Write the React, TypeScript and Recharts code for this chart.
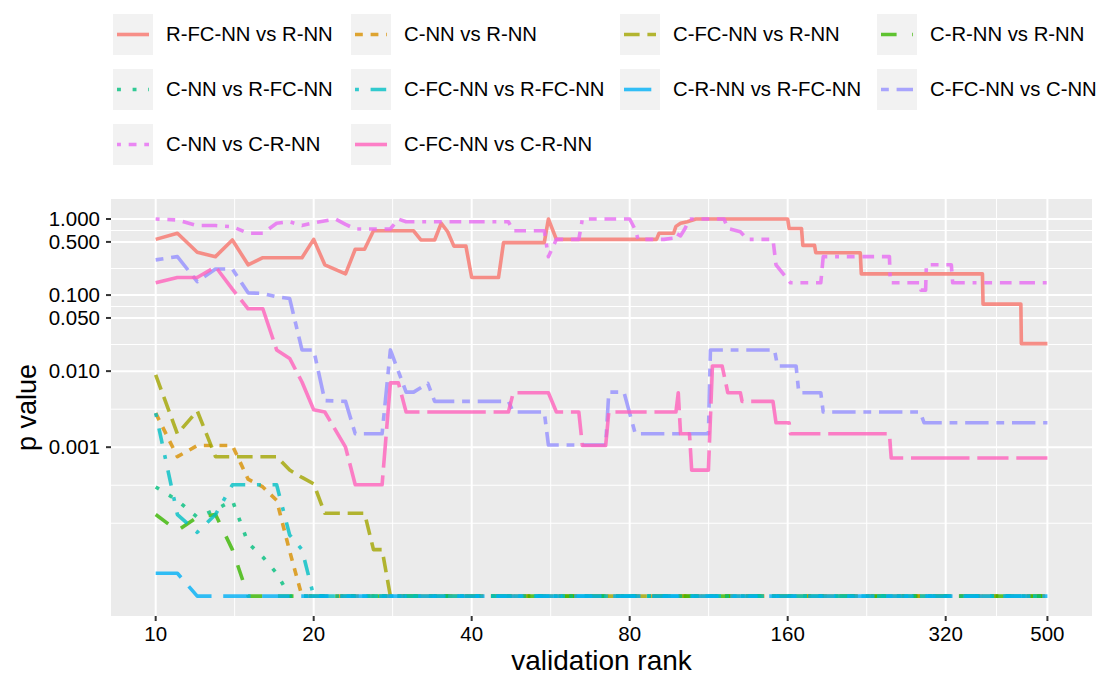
import { CartesianGrid, Label, Line, LineChart, XAxis, YAxis } from "recharts";

const FONT = '"Liberation Sans", Arial, Helvetica, sans-serif';

// smallest p value reported by the test
const pFloor = 1.1e-5;

// [validation rank, p value] for each pairwise comparison
const rFcNnVsRNn: [number, number][] = [
  [10, 0.54], [11, 0.65], [12, 0.365], [13, 0.32], [14, 0.53], [15, 0.25], [16, 0.31],
  [19, 0.31], [20, 0.54], [21, 0.25], [23, 0.19], [24, 0.4], [25, 0.4], [26, 0.7],
  [31, 0.7], [32, 0.53], [34, 0.53], [35, 0.88], [36, 0.68], [37, 0.44], [39, 0.44],
  [40, 0.17], [45, 0.17], [46, 0.49], [55, 0.49], [56, 1.0], [58, 0.54], [90, 0.54],
  [91, 0.65], [97, 0.65], [98, 0.8], [100, 0.88], [103, 0.92], [107, 1.0], [160, 1.0],
  [161, 0.75], [170, 0.75], [171, 0.45], [180, 0.45], [181, 0.36], [220, 0.36],
  [221, 0.19], [376, 0.19], [377, 0.076], [445, 0.076], [446, 0.023], [500, 0.023],
];
const cNnVsRNn: [number, number][] = [
  [10, 0.0028], [11, 0.00075], [12, 0.00105], [14, 0.00105], [15, 0.00038], [16, 0.0003],
  [17, 0.0002], [18, 0.000043], [19, pFloor], [500, pFloor],
];
const cFcNnVsRNn: [number, number][] = [
  [10, 0.0089], [11, 0.0015], [12, 0.003], [13, 0.00075], [17, 0.00075], [18, 0.0005],
  [19, 0.0004], [20, 0.00033], [21, 0.000135], [25, 0.000135], [26, 0.000045],
  [27, 0.000045], [28, pFloor], [500, pFloor],
];
const cRNnVsRNn: [number, number][] = [
  [10, 0.00013], [11, 0.00008], [12, 0.00012], [13, 0.00013], [14, 0.000045],
  [15, pFloor], [500, pFloor],
];
const cNnVsRFcNn: [number, number][] = [
  [10, 0.0003], [11, 0.0002], [12, 0.00012], [13, 0.00015], [14, 0.0002], [15, 0.000055],
  [16, 0.000036], [17, 0.000022], [18, pFloor], [500, pFloor],
];
const cFcNnVsRFcNn: [number, number][] = [
  [10, 0.0028], [11, 0.00013], [12, 0.000076], [13, 0.00013], [14, 0.00032], [17, 0.00032],
  [18, 0.00007], [19, 0.000045], [20, pFloor], [500, pFloor],
];
const cRNnVsRFcNn: [number, number][] = [
  [10, 0.000022], [11, 0.000022], [12, pFloor], [500, pFloor],
];
const cFcNnVsCNn: [number, number][] = [
  [10, 0.29], [11, 0.32], [12, 0.15], [13, 0.22], [14, 0.22], [15, 0.107], [16, 0.105],
  [17, 0.095], [18, 0.09], [19, 0.019], [20, 0.019], [21, 0.0041], [23, 0.004],
  [24, 0.0015], [27, 0.0015], [28, 0.019], [30, 0.0053], [31, 0.0053], [33, 0.0069],
  [34, 0.004], [47, 0.004], [48, 0.0029], [55, 0.0029], [56, 0.00107], [72, 0.00107],
  [73, 0.0053], [78, 0.0053], [82, 0.0015], [113, 0.0015], [114, 0.019], [151, 0.019],
  [153, 0.0117], [166, 0.0117], [168, 0.0052], [185, 0.0052], [187, 0.0029],
  [286, 0.0029], [291, 0.0021], [500, 0.0021],
];
const cNnVsCRNn: [number, number][] = [
  [10, 1.0], [11, 0.97], [12, 0.82], [13, 0.82], [14, 0.79], [15, 0.65], [16, 0.65],
  [17, 0.88], [18, 0.92], [19, 0.82], [20, 0.89], [22, 1.0], [23, 0.85], [24, 0.74],
  [28, 0.74], [29, 1.0], [30, 0.92], [47, 0.92], [48, 0.7], [55, 0.7], [56, 0.32],
  [58, 0.54], [64, 0.54], [65, 1.0], [80, 1.0], [82, 0.72], [83, 0.54], [93, 0.54],
  [97, 0.56], [98, 0.65], [100, 0.6], [102, 0.75], [104, 1.0], [121, 1.0], [123, 0.75],
  [130, 0.68], [134, 0.54], [150, 0.54], [152, 0.25], [162, 0.145], [185, 0.145],
  [187, 0.32], [250, 0.32], [251, 0.145], [286, 0.145], [287, 0.116], [293, 0.116],
  [294, 0.25], [328, 0.25], [330, 0.145], [500, 0.145],
];
const cFcNnVsCRNn: [number, number][] = [
  [10, 0.145], [11, 0.17], [12, 0.17], [13, 0.236], [14, 0.12], [15, 0.066], [16, 0.066],
  [17, 0.019], [18, 0.0147], [19, 0.0072], [20, 0.0031], [21, 0.0029], [23, 0.001],
  [24, 0.00032], [27, 0.00032], [28, 0.007], [29, 0.007], [30, 0.0029], [47, 0.0029],
  [48, 0.0052], [56, 0.0052], [58, 0.0029], [64, 0.0029], [65, 0.00105], [72, 0.00105],
  [73, 0.0029], [98, 0.0029], [99, 0.0052], [100, 0.0015], [104, 0.0015], [105, 0.0005],
  [113, 0.0005], [115, 0.0117], [120, 0.0117], [122, 0.0069], [123, 0.0052], [130, 0.0052],
  [131, 0.004], [150, 0.004], [152, 0.0021], [161, 0.0021], [162, 0.0015], [250, 0.0015],
  [252, 0.00072], [500, 0.00072],
];

const seriesNames = [
  "R-FC-NN vs R-NN", "C-NN vs R-NN", "C-FC-NN vs R-NN", "C-R-NN vs R-NN",
  "C-NN vs R-FC-NN", "C-FC-NN vs R-FC-NN", "C-R-NN vs R-FC-NN", "C-FC-NN vs C-NN",
  "C-NN vs C-R-NN", "C-FC-NN vs C-R-NN",
];
const seriesPoints = [
  rFcNnVsRNn, cNnVsRNn, cFcNnVsRNn, cRNnVsRNn, cNnVsRFcNn,
  cFcNnVsRFcNn, cRNnVsRFcNn, cFcNnVsCNn, cNnVsCRNn, cFcNnVsCRNn,
];
const seriesColors = [
  "#F8766D", "#D89000", "#A3A500", "#39B600", "#00BF7D",
  "#00BFC4", "#00B0F6", "#9590FF", "#E76BF3", "#FF62BC",
];
// R style hex line types
const seriesLineTypes = ["", "22", "42", "44", "13", "1343", "73", "2262", "12223242", "F282"];

const xTicks = [10, 20, 40, 80, 160, 320, 500];
const xMinor = [14.14, 28.28, 56.57, 113.1, 226.3, 400];
const yTicks = [0.001, 0.01, 0.05, 0.1, 0.5, 1];
const yMinor = [0.0001, 0.000316, 0.00316, 0.02236, 0.07071, 0.2236, 0.7071];

const LINE_W = 3.6;
const DASH_UNIT = 3.9;
const LINE_OPACITY = 0.8;

const dashArray = (code: string) =>
  code ? code.split("").map((c) => parseInt(c, 16) * DASH_UNIT).join(" ") : undefined;

const series = seriesNames.map((name, i) => ({
  name,
  color: seriesColors[i],
  dash: dashArray(seriesLineTypes[i]),
  data: seriesPoints[i].map(([rank, p]) => ({ rank, p })),
}));

const legendCols = [113, 351, 620, 877];
const legendRows = [14, 69, 124];

function LegendKeys() {
  return (
    <div style={{ position: "absolute", left: 0, top: 0, width: 1099, height: 180 }}>
      {series.map((s, i) => {
        const left = legendCols[i % 4];
        const top = legendRows[Math.floor(i / 4)];
        return (
          <div key={s.name} style={{ position: "absolute", left, top, height: 41, display: "flex", alignItems: "center" }}>
            <svg width={40} height={41} style={{ display: "block" }}>
              <rect width={40} height={41} fill="#F2F2F2" />
              <line
                x1={4}
                x2={36}
                y1={20.5}
                y2={20.5}
                stroke={s.color}
                strokeOpacity={LINE_OPACITY}
                strokeWidth={LINE_W}
                strokeDasharray={s.dash}
              />
            </svg>
            <span style={{ marginLeft: 13, fontFamily: FONT, fontSize: 20.3, color: "#000", whiteSpace: "nowrap" }}>
              {s.name}
            </span>
          </div>
        );
      })}
    </div>
  );
}

export default function App() {
  const tickStyle = { fill: "#000", fontSize: 20.5, fontFamily: FONT };
  return (
    <div style={{ position: "absolute", left: 0, top: 0, width: 1099, height: 675, background: "#fff" }}>
      <LegendKeys />
      <LineChart width={1099} height={675} margin={{ top: 199, right: 7, bottom: 0, left: 0 }}>
        <CartesianGrid
          fill="#EBEBEB"
          stroke="#FFFFFF"
          strokeWidth={1}
          horizontalValues={yMinor}
          verticalValues={xMinor}
        />
        <CartesianGrid stroke="#FFFFFF" strokeWidth={2} horizontalValues={yTicks} verticalValues={xTicks} />
        <XAxis
          dataKey="rank"
          type="number"
          scale="log"
          domain={[8.22, 608]}
          allowDataOverflow
          ticks={xTicks}
          interval={0}
          height={59}
          axisLine={false}
          tickSize={5}
          tickMargin={5}
          tickLine={{ stroke: "#333", strokeWidth: 2 }}
          tick={tickStyle}
        >
          <Label
            value="validation rank"
            position="insideBottom"
            offset={5}
            style={{ fontSize: 28, fill: "#000", fontFamily: FONT }}
          />
        </XAxis>
        <YAxis
          type="number"
          scale="log"
          domain={[6.03e-6, 1.833]}
          allowDataOverflow
          ticks={yTicks}
          interval={0}
          width={111}
          axisLine={false}
          tickSize={5}
          tickMargin={6}
          tickLine={{ stroke: "#333", strokeWidth: 2 }}
          tick={tickStyle}
          tickFormatter={(v: number) => v.toFixed(3)}
        >
          <Label
            value="p value"
            angle={-90}
            position="insideLeft"
            offset={26}
            style={{ textAnchor: "middle", fontSize: 27, fill: "#000", fontFamily: FONT }}
          />
        </YAxis>
        {series.map((s) => (
          <Line
            key={s.name}
            data={s.data}
            dataKey="p"
            name={s.name}
            type="linear"
            stroke={s.color}
            strokeOpacity={LINE_OPACITY}
            strokeWidth={LINE_W}
            strokeDasharray={s.dash}
            strokeLinejoin="round"
            dot={false}
            activeDot={false}
            isAnimationActive={false}
          />
        ))}
      </LineChart>
    </div>
  );
}
